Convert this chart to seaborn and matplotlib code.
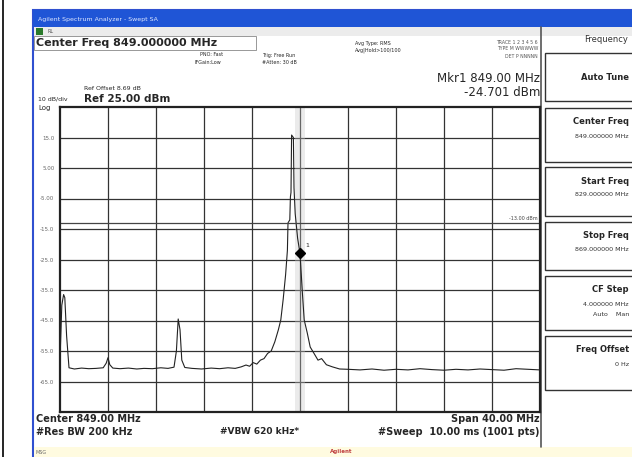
# Spectrum analyzer screen: swept SA trace around 849 MHz
import numpy as np
import pandas as pd
import matplotlib.pyplot as plt
import matplotlib.patches as patches
import seaborn as sns

# -------------------------------
# Data
# -------------------------------
freq_mhz = [829.00, 829.15, 829.30, 829.40, 829.55, 829.75, 830.20, 830.80, 831.40,
            832.00, 832.60, 832.85, 833.00, 833.15, 833.40, 834.00, 834.70, 835.40,
            836.00, 836.70, 837.40, 838.00, 838.50, 838.70, 838.85, 839.00, 839.15,
            839.40, 840.00, 840.80, 841.60, 842.30, 843.00, 843.60, 844.10, 844.50,
            844.80, 845.10, 845.40, 845.70, 846.00, 846.30, 846.60, 846.90, 847.20,
            847.40, 847.60, 847.80, 847.95, 848.00, 848.15, 848.20, 848.25, 848.30,
            848.45, 848.50, 848.60, 848.80, 849.00, 849.20, 849.35, 849.60, 849.85,
            850.20, 850.50, 850.80, 851.20, 851.70, 852.30, 853.00, 854.00, 855.00,
            856.00, 857.00, 858.00, 859.00, 860.00, 861.00, 862.00, 863.00, 864.00,
            865.00, 866.00, 867.00, 868.00, 869.00]
level_dbm = [-58.0, -40.0, -36.5, -37.5, -50.0, -60.5, -60.9, -60.6, -60.8,
             -60.7, -60.5, -59.0, -57.2, -59.5, -60.6, -60.8, -60.6, -60.9,
             -60.7, -60.8, -60.5, -60.7, -60.3, -55.0, -44.5, -48.0, -58.0,
             -60.4, -60.7, -60.9, -60.6, -60.8, -60.5, -60.7, -60.2, -59.6,
             -60.0, -58.8, -59.3, -58.0, -57.5, -55.8, -55.0, -52.0, -48.0,
             -44.8, -38.0, -30.0, -22.0, -13.0, -12.0, -4.5, -3.0, 15.8,
             15.0, -1.5, -10.0, -18.0, -23.0, -36.0, -44.8, -49.0, -53.7,
             -56.0, -58.0, -57.5, -59.5, -60.2, -60.9, -61.0, -61.2, -60.9,
             -61.3, -61.0, -61.2, -60.8, -61.1, -61.3, -61.0, -61.2, -60.9,
             -61.1, -61.3, -60.8, -61.0, -61.2]

level_ticks = [15, 5, -5, -15, -25, -35, -45, -55, -65]
level_labels = ["15.0", "5.00", "-5.00", "-15.0", "-25.0", "-35.0", "-45.0", "-55.0", "-65.0"]
freq_grid = [833, 837, 841, 845, 849, 853, 857, 861, 865]

marker_freq = 849.00
marker_level = -23.0
display_line = -13.0

softkeys = [("Auto Tune", "", ""),
            ("Center Freq", "849.000000 MHz", ""),
            ("Start Freq", "829.000000 MHz", ""),
            ("Stop Freq", "869.000000 MHz", ""),
            ("CF Step", "4.000000 MHz", "Auto    Man"),
            ("Freq Offset", "0 Hz", "")]

df = pd.DataFrame({"Freq": freq_mhz, "Level": level_dbm})

# -------------------------------
# Figure / screen frame
# -------------------------------
sns.set_style("white")
plt.rcParams['font.family'] = ['DejaVu Sans']

W, H = 632, 457
fig = plt.figure(figsize=(W / 100, H / 100), dpi=100)
fig.patch.set_facecolor("white")


def fx(x):
    return x / W


def fy(y):
    return 1 - y / H


def box(x0, y0, x1, y1, **kw):
    r = patches.Rectangle((fx(x0), fy(y1)), fx(x1) - fx(x0), fy(y0) - fy(y1),
                          transform=fig.transFigure, zorder=-5, **kw)
    fig.add_artist(r)


def txt(x, y, s, **kw):
    fig.text(fx(x), fy(y), s, **kw)


# outer left line
fig.add_artist(plt.Line2D([fx(3), fx(3)], [0, 1], transform=fig.transFigure,
                          color="black", lw=1.2))

# window + title bar + toolbar
box(33, 10, 640, 457, facecolor="white", edgecolor="#3050d0", lw=1.5)
box(33, 10, 640, 27, facecolor="#1f55d6", edgecolor="none")
txt(38, 19, "Agilent Spectrum Analyzer - Swept SA", color="#dfe8ff", fontsize=4.5, va="center")
box(34, 27, 640, 36, facecolor="#ececec", edgecolor="none")
box(36, 28, 43, 35, facecolor="#2a7a2a", edgecolor="none")
txt(48, 31.5, "RL", fontsize=3.5, va="center", color="#555555")
box(34, 36, 256, 50, facecolor="white", edgecolor="#888888", lw=0.6)
box(34, 447, 640, 457, facecolor="#fffbe0", edgecolor="none")
txt(36, 452, "MSG", fontsize=3.5, va="center", color="#666666")
txt(330, 452, "Agilent", fontsize=4, va="center", color="#c04040", fontweight="bold")

# header texts
txt(36, 43.5, "Center Freq 849.000000 MHz", fontsize=8, fontweight="bold", va="center")
txt(200, 55, "PNO: Fast", fontsize=3.5, va="center")
txt(194, 62, "IFGain:Low", fontsize=3.5, va="center")
txt(262, 55, "Trig: Free Run", fontsize=3.5, va="center")
txt(262, 62, "#Atten: 30 dB", fontsize=3.5, va="center")
txt(355, 43, "Avg Type: RMS", fontsize=3.5, va="center")
txt(355, 50, "Avg|Hold>100/100", fontsize=3.5, va="center")
txt(538, 42, "TRACE 1 2 3 4 5 6", fontsize=3.3, va="center", ha="right", color="#555555")
txt(538, 49, "TYPE M WWWWW", fontsize=3.3, va="center", ha="right", color="#555555")
txt(538, 56, "DET P NNNNN", fontsize=3.3, va="center", ha="right", color="#555555")
txt(540, 79, "Mkr1 849.00 MHz", fontsize=8.5, va="center", ha="right")
txt(540, 92, "-24.701 dBm", fontsize=8.5, va="center", ha="right")
txt(84, 88, "Ref Offset 8.69 dB", fontsize=4.5, va="center")
txt(84, 99, "Ref 25.00 dBm", fontsize=7.5, fontweight="bold", va="center")
txt(38, 99, "10 dB/div", fontsize=4.5, va="center")
txt(38, 108, "Log", fontsize=5, va="center")

# footer texts
txt(36, 419, "Center 849.00 MHz", fontsize=7, fontweight="bold", va="center")
txt(36, 432, "#Res BW 200 kHz", fontsize=7, fontweight="bold", va="center")
txt(220, 432, "#VBW 620 kHz*", fontsize=6.5, fontweight="bold", va="center")
txt(540, 419, "Span 40.00 MHz", fontsize=7, fontweight="bold", va="center", ha="right")
txt(540, 432, "#Sweep  10.00 ms (1001 pts)", fontsize=7, fontweight="bold", va="center", ha="right")

# softkey panel
fig.add_artist(plt.Line2D([fx(541), fx(541)], [fy(27), fy(447)], transform=fig.transFigure,
                          color="#555555", lw=1.2))
txt(628, 39, "Frequency", fontsize=6, va="center", ha="right", color="#333333")
key_tops = [53, 108, 167, 222, 276, 336]
key_h = [48, 54, 49, 48, 54, 54]
for (name, val, extra), top, h in zip(softkeys, key_tops, key_h):
    box(545, top, 650, top + h, facecolor="white", edgecolor="#333333", lw=1.0)
    if val:
        txt(629, top + 14, name, fontsize=6, fontweight="bold", va="center", ha="right")
        txt(629, top + 28, val, fontsize=4.6, va="center", ha="right", color="#333333")
        if extra:
            txt(629, top + 39, extra, fontsize=4.6, va="center", ha="right", color="#333333")
    else:
        txt(629, top + h / 2, name, fontsize=6, fontweight="bold", va="center", ha="right")

# -------------------------------
# Trace area
# -------------------------------
ax = fig.add_axes([fx(60), fy(412), fx(540) - fx(60), fy(107) - fy(412)])
ax.set_zorder(5)
ax.set_facecolor("white")

ax.axvspan(848.6, 849.4, color="#c8c8c8", alpha=0.35, lw=0)
sns.lineplot(data=df, x="Freq", y="Level", ax=ax, color="#222222", lw=0.8)
ax.axhline(display_line, color="#444444", lw=0.9)
ax.text(868.8, display_line + 0.6, "-13.00 dBm", fontsize=3.5, ha="right", va="bottom",
        color="#444444")
ax.plot([marker_freq], [marker_level], marker="D", color="black", markersize=5.5)
ax.text(marker_freq + 0.45, marker_level + 2.2, "1", fontsize=4.5)

ax.set_xlim(829, 869)
ax.set_ylim(-75, 25)
ax.set_xticks(freq_grid)
ax.set_yticks(level_ticks)
ax.set_yticklabels(level_labels, fontsize=4, color="#666666")
ax.set_xticklabels([])
ax.tick_params(length=0, pad=4)
ax.grid(True, color="#333333", lw=0.9)
ax.set_xlabel("")
ax.set_ylabel("")
for sp in ax.spines.values():
    sp.set_color("#222222")
    sp.set_linewidth(1.6)

fig.savefig("out.png", dpi=100)
